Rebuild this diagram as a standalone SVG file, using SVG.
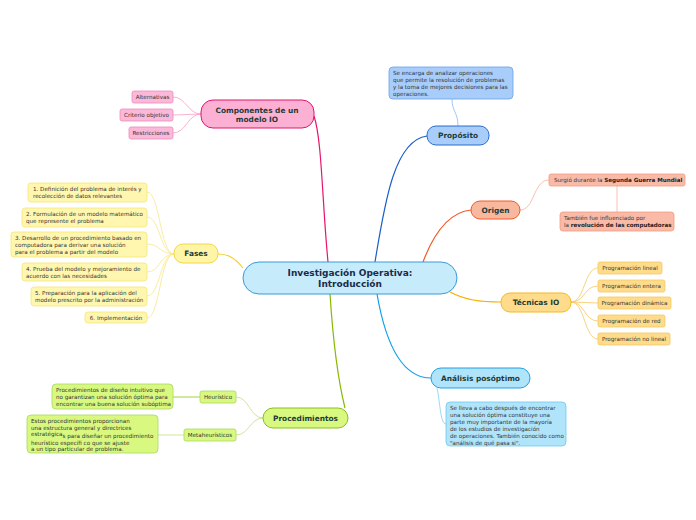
<svg xmlns="http://www.w3.org/2000/svg" width="696" height="520" viewBox="0 0 696 520">
<style>
text{font-family:"DejaVu Sans",Verdana,sans-serif;fill:#1e3b34}
.t{font-size:7.4px;font-weight:bold;text-anchor:middle}
.s{font-size:5.6px;fill:#333}
.sc{font-size:5.6px;fill:#333;text-anchor:middle}
.c{fill:none;stroke-width:1.2}
.cl{fill:none;stroke-width:0.8}
</style>
<rect width="696" height="520" fill="#fff"/>
<g id="connectors">
<path class="c" stroke="#e8156d" d="M328,262 C322,200 322,140 314,116"/>
<path class="c" stroke="#f5d020" d="M243,268 C235,258 228,254 218,254"/>
<path class="c" stroke="#1a5fc8" d="M375,262 C385,200 395,140 427,136"/>
<path class="c" stroke="#f05a28" d="M423,262 C435,230 450,212 471,210"/>
<path class="c" stroke="#f8b000" d="M450,292 C465,300 480,302 501,302"/>
<path class="c" stroke="#10a0e8" d="M377,294 C385,340 400,378 431,378"/>
<path class="c" stroke="#88b800" d="M330,294 C333,340 338,380 345,408"/>
<g stroke="#f7a0c8" class="cl">
<path d="M201,114 C188,114 186,97 173,97"/>
<path d="M201,114 L173,115"/>
<path d="M201,114 C188,114 186,133 173,133"/>
</g>
<g stroke="#f8e78a" class="cl">
<path d="M174,254 C160,254 160,192 147,192"/>
<path d="M174,254 C160,254 160,217 147,217"/>
<path d="M174,254 C160,254 160,244 147,244"/>
<path d="M174,254 C160,254 160,272 147,272"/>
<path d="M174,254 C160,254 160,296 147,296"/>
<path d="M174,254 C160,254 160,318 147,318"/>
</g>
<path class="cl" stroke="#8ab8f0" d="M458,126 C458,112 452,112 452,99"/>
<g stroke="#f8b0a0" class="cl">
<path d="M520,210 C535,210 533,180 549,180"/>
<path d="M617,186 L617,212"/>
</g>
<g stroke="#f5c860" class="cl">
<path d="M571,302 C585,302 584,268 598,268"/>
<path d="M571,302 C585,302 584,286 598,286"/>
<path d="M571,302 L598,303"/>
<path d="M571,302 C585,302 584,321 598,321"/>
<path d="M571,302 C585,302 584,339 598,339"/>
</g>
<path class="cl" stroke="#80cdf0" d="M437,388 C440,400 440,424 446,424"/>
<g stroke="#c0e080" class="cl">
<path d="M263,418 C250,418 249,397 236,397"/>
<path d="M263,418 C250,418 249,435 236,435"/>
<path d="M200,397 L173,397" stroke-width="1.5"/>
<path d="M184,435 L158,435"/>
</g>
</g>
<g id="central">
<rect x="243" y="262" width="214" height="32" rx="16" fill="#c6ecfc" stroke="#3a9ad9" stroke-width="1"/>
<text class="t" x="350" y="276" style="font-size:9px;fill:#1b2a4a">Investigación Operativa:</text>
<text class="t" x="350" y="287" style="font-size:9px;fill:#1b2a4a">Introducción</text>
</g>
<g id="componentes">
<rect x="201" y="100" width="113" height="28" rx="12" fill="#fbb0d4" stroke="#e0156d"/>
<text class="t" x="257" y="113">Componentes de un</text>
<text class="t" x="257" y="122">modelo IO</text>
</g>
<g id="alternativas"><rect x="132" y="91" width="41" height="12" rx="2" fill="#fbb8d8" stroke="#f08cba" stroke-width="0.8"/><text class="sc" x="152.5" y="99">Alternativas</text></g>
<g id="criterio"><rect x="120" y="109" width="53" height="12" rx="2" fill="#fbb8d8" stroke="#f08cba" stroke-width="0.8"/><text class="sc" x="146.5" y="117">Criterio objetivo</text></g>
<g id="restricciones"><rect x="129" y="127" width="44" height="12" rx="2" fill="#fbb8d8" stroke="#f08cba" stroke-width="0.8"/><text class="sc" x="151" y="135">Restricciones</text></g>
<g id="fases">
<rect x="174" y="244" width="44" height="19" rx="9" fill="#fff5a8" stroke="#f0d840"/>
<text class="t" x="196" y="256">Fases</text>
</g>
<g id="fase1"><rect x="28" y="183" width="119" height="19" rx="3" fill="#fff7b0" stroke="#f5e67a" stroke-width="0.8"/><text class="s" x="33" y="191">1. Definición del problema de interés y</text><text class="s" x="33" y="198">recolección de datos relevantes</text></g>
<g id="fase2"><rect x="22" y="208" width="125" height="19" rx="3" fill="#fff7b0" stroke="#f5e67a" stroke-width="0.8"/><text class="s" x="26" y="216">2. Formulación de un modelo matemático</text><text class="s" x="26" y="223"> que represente el problema</text></g>
<g id="fase3"><rect x="11" y="232" width="136" height="25" rx="3" fill="#fff7b0" stroke="#f5e67a" stroke-width="0.8"/><text class="s" x="15" y="240">3. Desarrollo de un procedimiento basado en</text><text class="s" x="15" y="247">computadora para derivar una solución</text><text class="s" x="15" y="254">para el problema a partir del modelo</text></g>
<g id="fase4"><rect x="22" y="263" width="125" height="18" rx="3" fill="#fff7b0" stroke="#f5e67a" stroke-width="0.8"/><text class="s" x="26" y="271">4. Prueba del modelo y mejoramiento de</text><text class="s" x="26" y="278">acuerdo con las necesidades</text></g>
<g id="fase5"><rect x="31" y="287" width="116" height="19" rx="3" fill="#fff7b0" stroke="#f5e67a" stroke-width="0.8"/><text class="s" x="35" y="295">5. Preparación para la aplicación del</text><text class="s" x="35" y="302">modelo prescrito por la administración</text></g>
<g id="fase6"><rect x="85" y="312" width="62" height="11" rx="3" fill="#fff7b0" stroke="#f5e67a" stroke-width="0.8"/><text class="sc" x="116" y="319.5">6. Implementación</text></g>
<g id="proposito">
<rect x="427" y="126" width="62" height="19" rx="9" fill="#a8cdfb" stroke="#2a6dd0"/>
<text class="t" x="458" y="138">Propósito</text>
</g>
<g id="proposito-nota"><rect x="389" y="67" width="124" height="32" rx="4" fill="#a8cdfb" stroke="#6aa0e8" stroke-width="0.8"/><text class="s" x="393" y="75">Se encarga de analizar operaciones</text><text class="s" x="393" y="82">que permite la resolución de problemas</text><text class="s" x="393" y="89">y la toma de mejores decisiones para las</text><text class="s" x="393" y="96">operaciones.</text></g>
<g id="origen">
<rect x="471" y="201" width="49" height="18" rx="9" fill="#f8b8a0" stroke="#f05a28"/>
<text class="t" x="495.5" y="213">Origen</text>
</g>
<g id="origen1"><rect x="549" y="174" width="136" height="12" rx="2" fill="#f9bba8" stroke="#f49a80" stroke-width="0.8"/><text class="s" x="554" y="182">Surgió durante la <tspan font-weight="bold" fill="#222">Segunda Guerra Mundial</tspan></text></g>
<g id="origen2"><rect x="560" y="212" width="114" height="19" rx="3" fill="#f9bba8" stroke="#f49a80" stroke-width="0.8"/><text class="s" x="564" y="220">También fue influenciado por</text><text class="s" x="564" y="227">la <tspan font-weight="bold" fill="#222">revolución de las computadoras</tspan></text></g>
<g id="tecnicas">
<rect x="501" y="293" width="70" height="19" rx="9" fill="#fedc8c" stroke="#f5b820"/>
<text class="t" x="536" y="305">Técnicas IO</text>
</g>
<g id="tec1"><rect x="598" y="262" width="64" height="12" rx="2" fill="#fedc8c" stroke="#f5c860" stroke-width="0.8"/><text class="sc" x="630" y="270">Programación lineal</text></g>
<g id="tec2"><rect x="598" y="280" width="67" height="12" rx="2" fill="#fedc8c" stroke="#f5c860" stroke-width="0.8"/><text class="sc" x="631.5" y="288">Programación entera</text></g>
<g id="tec3"><rect x="598" y="297" width="73" height="12" rx="2" fill="#fedc8c" stroke="#f5c860" stroke-width="0.8"/><text class="sc" x="634.5" y="305">Programación dinámica</text></g>
<g id="tec4"><rect x="598" y="315" width="67" height="12" rx="2" fill="#fedc8c" stroke="#f5c860" stroke-width="0.8"/><text class="sc" x="631.5" y="323">Programación de red</text></g>
<g id="tec5"><rect x="598" y="333" width="72" height="12" rx="2" fill="#fedc8c" stroke="#f5c860" stroke-width="0.8"/><text class="sc" x="634" y="341">Programación no lineal</text></g>
<g id="analisis">
<rect x="431" y="368" width="99" height="20" rx="10" fill="#b0e4fa" stroke="#20a0e0"/>
<text class="t" x="480.5" y="381">Análisis posóptimo</text>
</g>
<g id="analisis-nota"><rect x="446" y="402" width="120" height="44" rx="4" fill="#b0e4fa" stroke="#70c8f0" stroke-width="0.8"/><text class="s" x="450" y="410">Se lleva a cabo después de encontrar</text><text class="s" x="450" y="417">una solución óptima constituye una</text><text class="s" x="450" y="424">parte muy importante de la mayoría</text><text class="s" x="450" y="431"> de los estudios de investigación</text><text class="s" x="450" y="438">de operaciones. También conocido como</text><text class="s" x="450" y="445">"análisis de qué pasa si".</text></g>
<g id="procedimientos">
<rect x="263" y="408" width="85" height="20" rx="10" fill="#d8f880" stroke="#88c020"/>
<text class="t" x="305.5" y="421">Procedimientos</text>
</g>
<g id="heuristico"><rect x="200" y="391" width="36" height="12" rx="2" fill="#d8f880" stroke="#a8d860" stroke-width="0.8"/><text class="sc" x="218" y="399">Heurístico</text></g>
<g id="metaheuristicos"><rect x="184" y="429" width="52" height="12" rx="2" fill="#d8f880" stroke="#a8d860" stroke-width="0.8"/><text class="sc" x="210" y="437">Metaheurísticos</text></g>
<g id="heuristico-nota"><rect x="52" y="384" width="121" height="25" rx="4" fill="#d8f880" stroke="#a8d860" stroke-width="0.8"/><text class="s" x="56" y="392">Procedimientos de diseño intuitivo que</text><text class="s" x="56" y="399">no garantizan una solución óptima para</text><text class="s" x="56" y="406">encontrar una buena solución subóptima</text></g>
<g id="meta-nota"><rect x="27" y="415" width="131" height="38" rx="4" fill="#d8f880" stroke="#a8d860" stroke-width="0.8"/><text class="s" x="31" y="423">Estos procedimientos proporcionan</text><text class="s" x="31" y="430">una estructura general y directrices</text><text class="s" x="31" y="436">estratégica<tspan dy="1.6">s para diseñar un procedimiento</tspan></text><text class="s" x="31" y="444.5">heurístico específi co que se ajuste</text><text class="s" x="31" y="451">a un tipo particular de problema.</text></g>
</svg>
